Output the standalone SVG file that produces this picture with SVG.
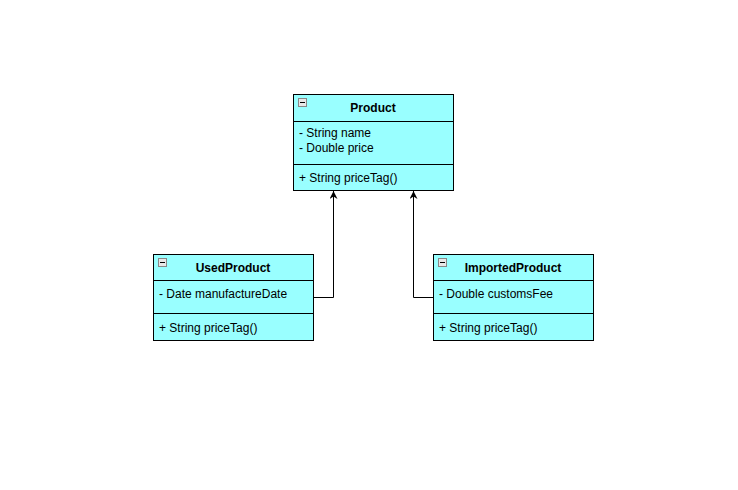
<svg xmlns="http://www.w3.org/2000/svg" width="738" height="490" viewBox="0 0 738 490">
<style>
.box{fill:#99ffff;stroke:#000;stroke-width:1}
.ln{stroke:#000;stroke-width:1}
.t{font-family:"Liberation Sans",Arial,sans-serif;font-size:12px;fill:#000}
.h{font-family:"Liberation Sans",Arial,sans-serif;font-size:12px;font-weight:bold;fill:#000;text-anchor:middle}
.ic{fill:#e8e8e8;stroke:#888;stroke-width:1}
.icm{stroke:#000;stroke-width:1}
.c{fill:none;stroke:#000;stroke-width:1}
</style>
<defs>
<marker id="arr" viewBox="0 0 10 10" refX="10" refY="5" markerWidth="8" markerHeight="8" markerUnits="userSpaceOnUse" orient="auto">
<path d="M0,0 L10,5 L0,10 L3,5 Z" fill="#000"/>
</marker>
</defs>
<rect width="738" height="490" fill="#fff"/>
<g id="connectors">
<path class="c" d="M313.5,297.5 H333.5 V191" marker-end="url(#arr)"/>
<path class="c" d="M433.5,297.5 H413.5 V191" marker-end="url(#arr)"/>
</g>
<g id="Product">
<rect class="box" x="293.5" y="94.5" width="160" height="96"/>
<line class="ln" x1="293.5" y1="121.5" x2="453.5" y2="121.5"/>
<line class="ln" x1="293.5" y1="164.5" x2="453.5" y2="164.5"/>
<rect class="ic" x="298.5" y="98.5" width="8" height="8"/>
<line class="icm" x1="300" y1="102.5" x2="305" y2="102.5"/>
<text class="h" x="373" y="112">Product</text>
<text class="t" x="299" y="137">- String name</text>
<text class="t" x="299" y="152">- Double price</text>
<text class="t" x="299" y="182">+ String priceTag()</text>
</g>
<g id="UsedProduct">
<rect class="box" x="153.5" y="254.5" width="160" height="86"/>
<line class="ln" x1="153.5" y1="280.5" x2="313.5" y2="280.5"/>
<line class="ln" x1="153.5" y1="313.5" x2="313.5" y2="313.5"/>
<rect class="ic" x="158.5" y="258.5" width="8" height="8"/>
<line class="icm" x1="160" y1="262.5" x2="165" y2="262.5"/>
<text class="h" x="233" y="272">UsedProduct</text>
<text class="t" x="159" y="298">- Date manufactureDate</text>
<text class="t" x="159" y="332">+ String priceTag()</text>
</g>
<g id="ImportedProduct">
<rect class="box" x="433.5" y="254.5" width="160" height="86"/>
<line class="ln" x1="433.5" y1="280.5" x2="593.5" y2="280.5"/>
<line class="ln" x1="433.5" y1="313.5" x2="593.5" y2="313.5"/>
<rect class="ic" x="438.5" y="258.5" width="8" height="8"/>
<line class="icm" x1="440" y1="262.5" x2="445" y2="262.5"/>
<text class="h" x="513" y="272">ImportedProduct</text>
<text class="t" x="439" y="298">- Double customsFee</text>
<text class="t" x="439" y="332">+ String priceTag()</text>
</g>
</svg>
